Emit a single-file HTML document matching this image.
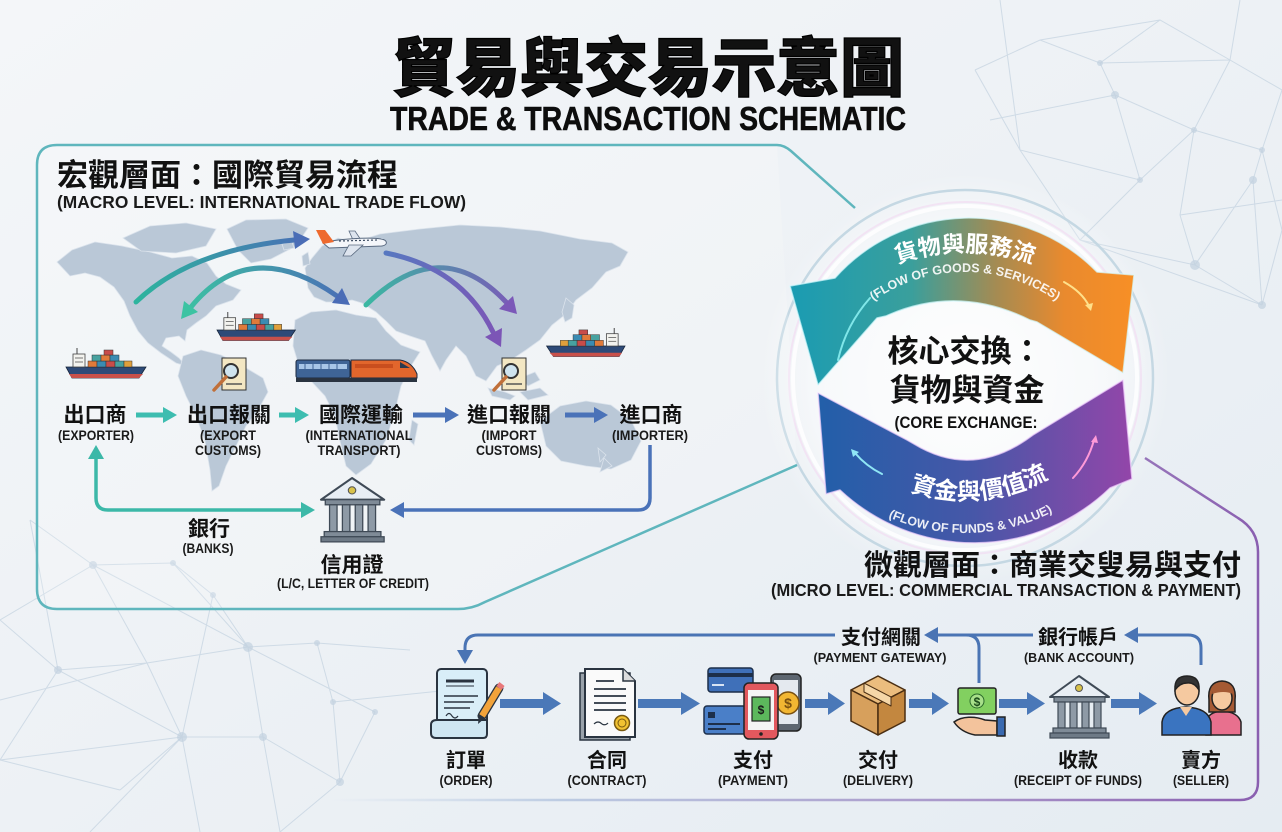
<!DOCTYPE html>
<html><head><meta charset="utf-8">
<style>
html,body{margin:0;padding:0;width:1282px;height:832px;overflow:hidden;background:#eef2f6;}
svg{display:block;}
.cjk{font-family:"Liberation Sans","Noto Sans CJK TC","Noto Sans CJK SC",sans-serif;font-weight:700;fill:#111;}
.en{font-family:"Liberation Sans",sans-serif;font-weight:700;fill:#1a1a1a;}
</style></head>
<body>
<svg width="1282" height="832" viewBox="0 0 1282 832" xmlns="http://www.w3.org/2000/svg">
<defs>
  <linearGradient id="bg" x1="0" y1="0" x2="1" y2="1">
    <stop offset="0" stop-color="#f4f6f9"/>
    <stop offset="0.5" stop-color="#edf1f5"/>
    <stop offset="1" stop-color="#e5ecf2"/>
  </linearGradient>
  <radialGradient id="glow" cx="0.5" cy="0.5" r="0.5">
    <stop offset="0" stop-color="#ffffff" stop-opacity="0.95"/>
    <stop offset="0.7" stop-color="#ffffff" stop-opacity="0.6"/>
    <stop offset="1" stop-color="#ffffff" stop-opacity="0"/>
  </radialGradient>
  <linearGradient id="gTop" x1="793" y1="0" x2="1132" y2="0" gradientUnits="userSpaceOnUse">
    <stop offset="0" stop-color="#1b9cb2"/>
    <stop offset="0.35" stop-color="#3a9f9c"/>
    <stop offset="0.6" stop-color="#a58b52"/>
    <stop offset="0.8" stop-color="#e98a2e"/>
    <stop offset="1" stop-color="#f78f26"/>
  </linearGradient>
  <linearGradient id="gBot" x1="818" y1="0" x2="1130" y2="0" gradientUnits="userSpaceOnUse">
    <stop offset="0" stop-color="#225fa9"/>
    <stop offset="0.5" stop-color="#4757a8"/>
    <stop offset="1" stop-color="#9246a9"/>
  </linearGradient>
  <linearGradient id="a1" x1="136" y1="0" x2="310" y2="0" gradientUnits="userSpaceOnUse">
    <stop offset="0" stop-color="#2db49e"/><stop offset="1" stop-color="#4a6db6"/>
  </linearGradient>
  <linearGradient id="a2" x1="181" y1="0" x2="350" y2="0" gradientUnits="userSpaceOnUse">
    <stop offset="0" stop-color="#3cc3a2"/><stop offset="1" stop-color="#4a6cb6"/>
  </linearGradient>
  <linearGradient id="a3" x1="366" y1="0" x2="517" y2="0" gradientUnits="userSpaceOnUse">
    <stop offset="0" stop-color="#3ab8a2"/><stop offset="1" stop-color="#7b58b8"/>
  </linearGradient>
  <linearGradient id="a4" x1="386" y1="0" x2="501" y2="0" gradientUnits="userSpaceOnUse">
    <stop offset="0" stop-color="#5878c0"/><stop offset="1" stop-color="#7c55b6"/>
  </linearGradient>
  <linearGradient id="micro" x1="330" y1="0" x2="1258" y2="0" gradientUnits="userSpaceOnUse">
    <stop offset="0" stop-color="#c6d6e8" stop-opacity="0"/>
    <stop offset="0.25" stop-color="#bccbe2"/>
    <stop offset="0.7" stop-color="#a894c8"/>
    <stop offset="1" stop-color="#8a5fb0"/>
  </linearGradient>
  <path id="arcTop1" d="M765,452 A200,200 0 0 1 1165,452"/>
  <path id="arcTop2" d="M805,432 A160,160 0 0 1 1125,432"/>
  <path id="arcBot1" d="M795,330 A170,170 0 0 0 1135,330"/>
  <path id="arcBot2" d="M772,340 A193,193 0 0 0 1158,340"/>
  <g id="ship">
    <path d="M0,19 L80,19 L73,30 L6,30 Z" fill="#2d4a78" stroke="#16243a" stroke-width="0.8"/>
    <path d="M3,26 L77,26 L73,30 L6,30 Z" fill="#c8504a"/>
    <rect x="22" y="13" width="9" height="6" fill="#e07a3a" stroke="#333" stroke-width="0.5"/>
    <rect x="31" y="13" width="9" height="6" fill="#3b8bb2" stroke="#333" stroke-width="0.5"/>
    <rect x="40" y="13" width="9" height="6" fill="#c84c4a" stroke="#333" stroke-width="0.5"/>
    <rect x="49" y="13" width="9" height="6" fill="#48a2a0" stroke="#333" stroke-width="0.5"/>
    <rect x="58" y="13" width="8" height="6" fill="#e0a03c" stroke="#333" stroke-width="0.5"/>
    <rect x="26" y="7" width="9" height="6" fill="#48a2a0" stroke="#333" stroke-width="0.5"/>
    <rect x="35" y="7" width="9" height="6" fill="#e07a3a" stroke="#333" stroke-width="0.5"/>
    <rect x="44" y="7" width="9" height="6" fill="#3b8bb2" stroke="#333" stroke-width="0.5"/>
    <rect x="38" y="2" width="9" height="5" fill="#c84c4a" stroke="#333" stroke-width="0.5"/>
    <rect x="7" y="6" width="12" height="13" fill="#f3f3ef" stroke="#444" stroke-width="0.8"/>
    <line x1="9" y1="10" x2="17" y2="10" stroke="#555" stroke-width="0.8"/>
    <line x1="9" y1="14" x2="17" y2="14" stroke="#555" stroke-width="0.8"/>
    <line x1="11" y1="0" x2="11" y2="6" stroke="#444" stroke-width="1"/>
  </g>
  <g id="bankMicro">
    <polygon points="29,1 59,22 0,22" fill="#e8eef4" stroke="#3f4a56" stroke-width="2" stroke-linejoin="round"/>
    <circle cx="29" cy="13" r="3.5" fill="#d9c24a" stroke="#555" stroke-width="1"/>
    <rect x="4" y="22" width="51" height="5" fill="#7f8b97" stroke="#3f4a56" stroke-width="1.2"/>
    <rect x="8" y="27" width="7" height="26" fill="#8e9aa6" stroke="#3f4a56" stroke-width="1.2"/>
    <rect x="20" y="27" width="7" height="26" fill="#8e9aa6" stroke="#3f4a56" stroke-width="1.2"/>
    <rect x="32" y="27" width="7" height="26" fill="#8e9aa6" stroke="#3f4a56" stroke-width="1.2"/>
    <rect x="44" y="27" width="7" height="26" fill="#8e9aa6" stroke="#3f4a56" stroke-width="1.2"/>
    <rect x="3" y="53" width="53" height="5" fill="#7f8b97" stroke="#3f4a56" stroke-width="1.2"/>
    <rect x="0" y="58" width="59" height="5" fill="#6e7a86" stroke="#3f4a56" stroke-width="1.2"/>
  </g>
</defs>

<rect x="0" y="0" width="1282" height="832" fill="url(#bg)"/>

<!-- network background -->
<g stroke="#b7c8d9" stroke-width="1" opacity="0.55" fill="none">
  <path d="M975,70 L1040,40 L1100,63 L1115,95 L1194,130 L1262,150 L1253,180 L1262,305 M1100,63 L1160,20 L1230,60 L1282,90 M1040,40 L1160,20 M1194,130 L1140,180 L1020,150 L975,70 M1020,150 L1080,240 L1195,265 L1180,215 L1194,130 M1080,240 L1140,180 M1230,60 L1194,130 M1240,0 L1230,60 M1262,150 L1282,90 M1262,305 L1282,230 L1262,150 M1115,95 L1140,180 M1253,180 L1195,265 L1262,305 M1100,63 L1230,60 M1020,150 L1000,0 M1180,215 L1282,200 M1080,240 L1262,305 M990,120 L1115,95"/>
  <path d="M93,565 L173,563 L248,647 L93,565 M213,595 L248,647 L317,643 M248,647 L147,663 L58,670 L182,737 L147,663 M182,737 L263,737 L248,647 M263,737 L340,782 L333,702 L317,643 M375,712 L340,782 M0,620 L58,670 M0,620 L93,565 M0,760 L58,670 M0,760 L182,737 M90,832 L182,737 M200,832 L182,737 M280,832 L340,782 M30,520 L93,565 M30,520 L58,670 M120,790 L182,737 M120,790 L0,760 M147,663 L93,565 M213,595 L182,737 M263,737 L280,832 M248,647 L375,712 M173,563 L213,595 M0,700 L147,663 M333,702 L450,690 M317,643 L410,650"/>
</g>
<g fill="#c3d2e0" opacity="0.7">
  <circle cx="1100" cy="63" r="3"/><circle cx="1115" cy="95" r="4"/><circle cx="1194" cy="130" r="3"/>
  <circle cx="1262" cy="150" r="3"/><circle cx="1253" cy="180" r="4"/><circle cx="1195" cy="265" r="5"/>
  <circle cx="1262" cy="305" r="4"/><circle cx="1140" cy="180" r="3"/>
  <circle cx="93" cy="565" r="4"/><circle cx="173" cy="563" r="3"/><circle cx="248" cy="647" r="5"/>
  <circle cx="58" cy="670" r="4"/><circle cx="182" cy="737" r="5"/><circle cx="263" cy="737" r="4"/>
  <circle cx="333" cy="702" r="3"/><circle cx="375" cy="712" r="3"/><circle cx="340" cy="782" r="4"/>
  <circle cx="317" cy="643" r="3"/><circle cx="213" cy="595" r="3"/>
</g>

<!-- Title -->
<text x="648" y="91" text-anchor="middle" class="cjk" font-size="64" style="font-weight:900" stroke="#000" stroke-width="1.2">貿易與交易示意圖</text>
<text x="648" y="130" text-anchor="middle" class="en" font-size="33" textLength="516" lengthAdjust="spacingAndGlyphs" style="fill:#0d0d0d" stroke="#0d0d0d" stroke-width="0.6">TRADE &amp; TRANSACTION SCHEMATIC</text>

<!-- Circle glow and rings -->
<circle cx="965" cy="378" r="205" fill="url(#glow)"/>
<circle cx="965" cy="378" r="188" fill="none" stroke="#c5d8e3" stroke-width="2.5"/>
<circle cx="965" cy="378" r="172" fill="none" stroke="#ffffff" stroke-width="4" opacity="0.8"/>
<circle cx="965" cy="378" r="176" fill="none" stroke="#f3c6ef" stroke-width="2" opacity="0.35"/>

<!-- Macro panel border -->
<path d="M777,145 L57,145 Q37,145 37,165 L37,589 Q37,609 57,609 L458,609 Q472,609 485,602 L797,465" fill="rgba(255,255,255,0.18)" stroke="#5fb6bd" stroke-width="2.5"/>
<path d="M777,145 Q784,145 791,151 L855,208" fill="none" stroke="#5fb6bd" stroke-width="2.5"/>

<!-- Micro panel border -->
<path d="M1145,458 L1238,518 Q1258,530 1258,552 L1258,782 Q1258,800 1240,800 L330,800" fill="none" stroke="url(#micro)" stroke-width="2.5"/>

<!-- Macro heading -->
<text x="57" y="186" class="cjk" font-size="31">宏觀層面：國際貿易流程</text>
<text x="57" y="208" class="en" font-size="17.5" textLength="409" lengthAdjust="spacingAndGlyphs">(MACRO LEVEL: INTERNATIONAL TRADE FLOW)</text>

<!-- World map -->
<g fill="#bac8d7" stroke="#dbe3ec" stroke-width="0.8">
  <path d="M57,262 L72,250 L95,242 L122,246 L150,252 L172,258 L192,256 L207,263 L216,276 L226,284 L241,290 L233,300 L216,306 L206,316 L196,323 L187,330 L185,341 L179,336 L166,338 L162,346 L171,352 L179,358 L186,366 L176,363 L161,353 L148,343 L138,331 L130,316 L124,301 L114,287 L100,277 L85,273 L70,276 Z"/>
  <path d="M123,238 L150,226 L186,223 L216,229 L206,246 L176,253 L141,251 Z"/>
  <path d="M227,229 L246,220 L286,219 L308,228 L296,246 L271,259 L251,263 L238,250 Z"/>
  <path d="M183,356 L201,350 L221,355 L241,365 L263,378 L268,392 L258,410 L246,426 L236,446 L226,466 L219,486 L212,491 L210,470 L205,441 L196,416 L186,396 L178,376 Z"/>
  <path d="M305,268 L312,258 L322,246 L338,238 L355,242 L380,234 L420,229 L460,225 L500,227 L540,231 L580,239 L612,243 L628,252 L620,266 L606,272 L592,288 L576,300 L566,314 L552,325 L540,340 L526,350 L511,360 L497,366 L486,381 L476,376 L466,356 L456,346 L446,360 L440,371 L432,356 L425,341 L410,336 L396,331 L386,321 L376,312 L362,303 L352,300 L340,302 L326,302 L314,297 L308,288 Z"/>
  <path d="M295,320 L311,312 L336,310 L356,315 L376,318 L386,331 L401,345 L420,352 L411,366 L401,386 L395,411 L386,440 L371,464 L356,475 L346,466 L340,441 L335,416 L325,396 L311,381 L299,366 L293,346 Z"/>
  <path d="M540,421 L560,406 L586,401 L611,405 L631,420 L641,441 L631,460 L611,469 L586,466 L561,461 L546,446 Z"/>
  <path d="M566,298 L574,305 L572,318 L565,322 L562,312 Z"/>
  <path d="M488,388 L505,392 L515,396 L510,400 L492,396 Z"/>
  <path d="M520,392 L540,388 L548,395 L528,400 Z"/>
  <path d="M520,378 L535,372 L540,380 L528,386 Z"/>
  <path d="M598,448 L606,455 L600,462 Z"/>
  <path d="M604,458 L612,466 L600,472 Z"/>
  <path d="M412,420 L418,424 L414,445 L409,440 Z"/>
  <path d="M302,256 L308,252 L310,264 L303,266 Z"/>
  <path d="M282,244 L292,242 L294,248 L284,250 Z"/>
</g>

<!-- map arcs -->
<g fill="none" stroke-linecap="round">
  <path d="M136,302 Q190,250 294,240" stroke="url(#a1)" stroke-width="5"/>
  <path d="M191,307 Q250,235 337,296" stroke="url(#a2)" stroke-width="5"/>
  <path d="M366,305 Q440,232 506,302" stroke="url(#a3)" stroke-width="5"/>
  <path d="M386,253 Q462,268 493,332" stroke="url(#a4)" stroke-width="5"/>
</g>
<polygon points="310,239 295,249 293,231" fill="#4a6db6"/>
<polygon points="181,319 184,301 198,312" fill="#3cc3a2"/>
<polygon points="350,305 332,303 342,288" fill="#4a6cb6"/>
<polygon points="517,314 499,309 513,296" fill="#7b58b8"/>
<polygon points="501,347 485,337 502,328" fill="#7c55b6"/>

<!-- plane -->
<g transform="translate(315,228)">
  <polygon points="38,12 46,12 40,3 34,3" fill="#dde4ee" stroke="#5a6a80" stroke-width="0.8"/>
  <path d="M8,15 C20,11 55,9 66,11 C73,12 73,17 67,18 L14,20 Z" fill="#f4f6fa" stroke="#5a6a80" stroke-width="1"/>
  <polygon points="1,2 10,2 19,14 8,16" fill="#ee6a2e"/>
  <polygon points="34,17 48,17 36,28 28,28" fill="#dde4ee" stroke="#5a6a80" stroke-width="0.8"/>
  <line x1="24" y1="13" x2="62" y2="12" stroke="#3a4a60" stroke-width="1.2" stroke-dasharray="2,2"/>
</g>

<!-- ships -->
<use href="#ship" transform="translate(66,348)"/>
<use href="#ship" transform="translate(217,312) scale(0.98,0.95)"/>
<use href="#ship" transform="translate(625,328) scale(-0.98,0.95)"/>

<!-- train -->
<g>
  <rect x="296" y="360" width="54" height="18" rx="2" fill="#3f6496" stroke="#1c2a40" stroke-width="1"/>
  <rect x="299" y="364" width="48" height="5" fill="#a8c6e8"/>
  <g stroke="#3f6496" stroke-width="1"><line x1="305" y1="364" x2="305" y2="369"/><line x1="313" y1="364" x2="313" y2="369"/><line x1="321" y1="364" x2="321" y2="369"/><line x1="329" y1="364" x2="329" y2="369"/><line x1="337" y1="364" x2="337" y2="369"/></g>
  <path d="M351,360 L400,360 Q412,362 417,374 L417,378 L351,378 Z" fill="#e2662c" stroke="#1c2a40" stroke-width="1"/>
  <rect x="355" y="364" width="38" height="4" fill="#c94e1e"/>
  <path d="M400,362 L410,368 L400,368 Z" fill="#2a3a50"/>
  <rect x="296" y="378" width="121" height="4" fill="#2a3340"/>
</g>

<!-- docs with magnifier -->
<g>
  <rect x="222" y="358" width="24" height="32" fill="#f3e7c3" stroke="#333" stroke-width="1"/>
  <line x1="226" y1="384" x2="242" y2="384" stroke="#555" stroke-width="1.5"/>
  <circle cx="231" cy="371" r="7" fill="#cfe4ef" stroke="#333" stroke-width="2"/>
  <line x1="226" y1="377" x2="214" y2="390" stroke="#c0703a" stroke-width="3.5" stroke-linecap="round"/>
  <rect x="502" y="358" width="24" height="32" fill="#f3e7c3" stroke="#333" stroke-width="1"/>
  <line x1="506" y1="384" x2="522" y2="384" stroke="#555" stroke-width="1.5"/>
  <circle cx="511" cy="371" r="7" fill="#cfe4ef" stroke="#333" stroke-width="2"/>
  <line x1="506" y1="377" x2="494" y2="390" stroke="#c0703a" stroke-width="3.5" stroke-linecap="round"/>
</g>

<!-- macro flow labels -->
<g text-anchor="middle">
  <text x="95" y="422" class="cjk" font-size="21">出口商</text>
  <text x="229" y="422" class="cjk" font-size="21">出口報關</text>
  <text x="361" y="422" class="cjk" font-size="21">國際運輸</text>
  <text x="509" y="422" class="cjk" font-size="21">進口報關</text>
  <text x="651" y="422" class="cjk" font-size="21">進口商</text>
  <text x="96" y="440" class="en" font-size="13.5" textLength="76" lengthAdjust="spacingAndGlyphs">(EXPORTER)</text>
  <text x="228" y="440" class="en" font-size="13.5" textLength="56" lengthAdjust="spacingAndGlyphs">(EXPORT</text>
  <text x="228" y="455" class="en" font-size="13.5" textLength="66" lengthAdjust="spacingAndGlyphs">CUSTOMS)</text>
  <text x="359" y="440" class="en" font-size="13.5" textLength="107" lengthAdjust="spacingAndGlyphs">(INTERNATIONAL</text>
  <text x="359" y="455" class="en" font-size="13.5" textLength="83" lengthAdjust="spacingAndGlyphs">TRANSPORT)</text>
  <text x="509" y="440" class="en" font-size="13.5" textLength="55" lengthAdjust="spacingAndGlyphs">(IMPORT</text>
  <text x="509" y="455" class="en" font-size="13.5" textLength="66" lengthAdjust="spacingAndGlyphs">CUSTOMS)</text>
  <text x="650" y="440" class="en" font-size="13.5" textLength="76" lengthAdjust="spacingAndGlyphs">(IMPORTER)</text>
</g>
<!-- macro arrows -->
<g>
  <rect x="136" y="412.5" width="28" height="5" fill="#3dbdb0"/><polygon points="177,415 163,407 163,423" fill="#3dbdb0"/>
  <rect x="279" y="412.5" width="17" height="5" fill="#3dbdb0"/><polygon points="309,415 295,407 295,423" fill="#3dbdb0"/>
  <rect x="413" y="412.5" width="33" height="5" fill="#4a72b8"/><polygon points="459,415 445,407 445,423" fill="#4a72b8"/>
  <rect x="565" y="412.5" width="30" height="5" fill="#4a72b8"/><polygon points="608,415 594,407 594,423" fill="#4a72b8"/>
</g>
<!-- bank loop -->
<path d="M96,458 L96,498 Q96,510 108,510 L302,510" fill="none" stroke="#3cb8a8" stroke-width="3.5"/>
<polygon points="96,445 88,459 104,459" fill="#3cb8a8"/>
<polygon points="315,510 301,502 301,518" fill="#3cb8a8"/>
<path d="M650,445 L650,498 Q650,510 638,510 L402,510" fill="none" stroke="#4a72b8" stroke-width="3.5"/>
<polygon points="390,510 404,502 404,518" fill="#4a72b8"/>
<use href="#bankMicro" transform="translate(321,477) scale(1.07,1.03)"/>
<g text-anchor="middle">
  <text x="209" y="536" class="cjk" font-size="21">銀行</text>
  <text x="208" y="553" class="en" font-size="13.5" textLength="51" lengthAdjust="spacingAndGlyphs">(BANKS)</text>
  <text x="352" y="572" class="cjk" font-size="21">信用證</text>
  <text x="353" y="588" class="en" font-size="13.5" textLength="152" lengthAdjust="spacingAndGlyphs">(L/C, LETTER OF CREDIT)</text>
</g>

<!-- Core exchange circle bands -->
<path d="M790,286 L818,385 L877,318 L886,316 Q957,284 1030,320 L1037,322 L1123,373 L1134,275 L1097,272 A179,179 0 0 0 835,278 Z" fill="url(#gTop)" stroke="#d8fbff" stroke-opacity="0.7" stroke-width="1.5" stroke-linejoin="round"/>
<path d="M818,393 L826,494 L840,490 A196,196 0 0 0 1110,488 L1132,479 L1123,380 L1033,435 L1026,440 Q970,478 914,444 L907,440 Z" fill="url(#gBot)" stroke="#f4d4ff" stroke-opacity="0.7" stroke-width="1.5" stroke-linejoin="round"/>
<!-- small thin arrows in bands -->
<g fill="none" stroke-width="2" stroke-linecap="round">
  <path d="M870,298 Q846,325 838,360" stroke="#8ff3f5" opacity="0.85"/>
  <path d="M1064,282 Q1082,292 1089,306" stroke="#ffe08a"/>
  <path d="M882,474 Q866,466 855,453" stroke="#8fe6f5"/>
  <path d="M1073,478 Q1088,462 1094,440" stroke="#ff9ad8"/>
</g>
<polygon points="1091,311 1085,305 1093,303" fill="#ffe08a"/>
<polygon points="851,449 859,452 853,457" fill="#8fe6f5"/>
<polygon points="1096,435 1098,443 1091,442" fill="#ff9ad8"/>

<!-- band texts -->
<text class="cjk" font-size="23" style="fill:#ffffff"><textPath href="#arcTop1" startOffset="50%" text-anchor="middle">貨物與服務流</textPath></text>
<text class="en" font-size="12.5" style="fill:#ffffff" opacity="0.9"><textPath href="#arcTop2" startOffset="50%" text-anchor="middle">(FLOW OF GOODS &amp; SERVICES)</textPath></text>
<text class="cjk" font-size="24" style="fill:#ffffff"><textPath href="#arcBot1" startOffset="53%" text-anchor="middle">資金與價值流</textPath></text>
<text class="en" font-size="12.5" style="fill:#ffffff" opacity="0.9"><textPath href="#arcBot2" startOffset="51%" text-anchor="middle">(FLOW OF FUNDS &amp; VALUE)</textPath></text>

<!-- core text -->
<g text-anchor="middle">
  <text x="965" y="362" class="cjk" font-size="31">核心交換：</text>
  <text x="967" y="401" class="cjk" font-size="31">貨物與資金</text>
  <text x="966" y="428" class="en" font-size="16.5" textLength="143" lengthAdjust="spacingAndGlyphs" style="fill:#111">(CORE EXCHANGE:</text>
</g>

<!-- Micro heading -->
<text x="1241" y="575" text-anchor="end" class="cjk" font-size="29">微觀層面：商業交叟易與支付</text>
<text x="1241" y="596" text-anchor="end" class="en" font-size="17.5" textLength="470" lengthAdjust="spacingAndGlyphs">(MICRO LEVEL: COMMERCIAL TRANSACTION &amp; PAYMENT)</text>

<!-- micro feedback arrows -->
<g fill="none" stroke="#4a74b4" stroke-width="3">
  <path d="M835,635 L478,635 Q465,635 465,648 L465,652"/>
  <path d="M936,635 L1033,635"/>
  <path d="M966,635 Q979,635 979,648 L979,683"/>
  <path d="M1201,665 L1201,648 Q1201,635 1188,635 L1138,635"/>
</g>
<polygon points="465,664 457,650 473,650" fill="#4a74b4"/>
<polygon points="924,635 938,627 938,643" fill="#4a74b4"/>
<polygon points="1124,635 1138,627 1138,643" fill="#4a74b4"/>
<g text-anchor="middle">
  <text x="881" y="644" class="cjk" font-size="20">支付網關</text>
  <text x="880" y="662" class="en" font-size="13" textLength="133" lengthAdjust="spacingAndGlyphs">(PAYMENT GATEWAY)</text>
  <text x="1078" y="644" class="cjk" font-size="20">銀行帳戶</text>
  <text x="1079" y="662" class="en" font-size="13" textLength="110" lengthAdjust="spacingAndGlyphs">(BANK ACCOUNT)</text>
</g>

<!-- micro thick arrows -->
<g fill="#4a78b8">
  <rect x="500" y="699" width="44" height="9"/><polygon points="561,703.5 543,692 543,715"/>
  <rect x="638" y="699" width="44" height="9"/><polygon points="700,703.5 681,692 681,715"/>
  <rect x="805" y="699" width="24" height="9"/><polygon points="845,703.5 828,692 828,715"/>
  <rect x="909" y="699" width="24" height="9"/><polygon points="949,703.5 932,692 932,715"/>
  <rect x="999" y="699" width="29" height="9"/><polygon points="1045,703.5 1027,692 1027,715"/>
  <rect x="1111" y="699" width="29" height="9"/><polygon points="1157,703.5 1139,692 1139,715"/>
</g>

<!-- order icon -->
<g>
  <rect x="437" y="669" width="50" height="60" rx="4" fill="#d9eef8" stroke="#2a3440" stroke-width="2"/>
  <path d="M431,725 Q431,720 437,720 L487,720 L487,734 Q487,738 483,738 L436,738 Q431,738 431,733 Z" fill="#cfe6f2" stroke="#2a3440" stroke-width="2"/>
  <line x1="446" y1="681" x2="474" y2="681" stroke="#2a3440" stroke-width="3"/>
  <line x1="446" y1="686" x2="474" y2="686" stroke="#2a3440" stroke-width="1"/>
  <line x1="444" y1="696" x2="478" y2="696" stroke="#2a3440" stroke-width="1.5"/>
  <line x1="444" y1="702" x2="474" y2="702" stroke="#2a3440" stroke-width="1.5"/>
  <line x1="444" y1="708" x2="470" y2="708" stroke="#2a3440" stroke-width="1.5"/>
  <path d="M446,716 q3,-5 6,0 q3,4 6,0" fill="none" stroke="#2a3440" stroke-width="1.2"/>
  <line x1="499" y1="688" x2="482" y2="716" stroke="#2a3440" stroke-width="9" stroke-linecap="round"/>
  <line x1="499" y1="688" x2="482" y2="716" stroke="#f2a33a" stroke-width="6.5"/>
  <line x1="502" y1="684" x2="499" y2="688" stroke="#e8787a" stroke-width="6.5"/>
  <polygon points="479,714 485,718 478,724" fill="#2a3440"/>
</g>
<!-- contract icon -->
<g>
  <rect x="580" y="673" width="50" height="67" fill="#9aa2aa" stroke="#2a3440" stroke-width="1.5"/>
  <path d="M585,669 L623,669 L635,681 L635,737 L585,737 Z" fill="#fafafa" stroke="#2a3440" stroke-width="2"/>
  <path d="M623,669 L623,681 L635,681" fill="#dcdcdc" stroke="#2a3440" stroke-width="1.5"/>
  <g stroke="#2a3440" stroke-width="1.8"><line x1="596" y1="681" x2="614" y2="681"/><line x1="594" y1="689" x2="626" y2="689"/><line x1="594" y1="696" x2="626" y2="696"/><line x1="594" y1="703" x2="626" y2="703"/><line x1="594" y1="710" x2="626" y2="710"/></g>
  <path d="M594,724 q4,-4 8,0 q3,2 6,-1" fill="none" stroke="#2a3440" stroke-width="1.2"/>
  <circle cx="622" cy="723" r="7.5" fill="#f2c232" stroke="#7a5a10" stroke-width="1.5"/>
  <circle cx="622" cy="723" r="4" fill="none" stroke="#7a5a10" stroke-width="1"/>
</g>
<!-- payment icon -->
<g>
  <rect x="708" y="668" width="45" height="24" rx="3" fill="#3f70b9" stroke="#1d2f4a" stroke-width="1.5"/>
  <rect x="708" y="673" width="45" height="4" fill="#1d2f4a"/>
  <line x1="712" y1="685" x2="724" y2="685" stroke="#d8e4f4" stroke-width="2"/>
  <rect x="771" y="674" width="30" height="57" rx="5" fill="#5d6670" stroke="#222" stroke-width="1.5"/>
  <rect x="774" y="680" width="24" height="44" fill="#e4e9ef"/>
  <circle cx="788" cy="703" r="11" fill="#f2b632" stroke="#7a5010" stroke-width="1.5"/>
  <text x="788" y="708" text-anchor="middle" class="en" font-size="14" style="fill:#7a5010">$</text>
  <rect x="704" y="706" width="42" height="28" rx="3" fill="#4a7fc8" stroke="#1d2f4a" stroke-width="1.5"/>
  <rect x="708" y="712" width="7" height="6" fill="#1d2f4a"/>
  <line x1="708" y1="724" x2="740" y2="724" stroke="#1d2f4a" stroke-width="2"/>
  <line x1="708" y1="729" x2="726" y2="729" stroke="#1d2f4a" stroke-width="2"/>
  <rect x="744" y="683" width="34" height="56" rx="5" fill="#e2585e" stroke="#222" stroke-width="1.5"/>
  <rect x="748" y="690" width="26" height="40" fill="#f4f4f4"/>
  <rect x="752" y="697" width="18" height="24" fill="#5cb85c" stroke="#222" stroke-width="1.2"/>
  <text x="761" y="714" text-anchor="middle" class="en" font-size="12" style="fill:#1a1a1a">$</text>
  <circle cx="761" cy="734" r="1.8" fill="#222"/>
</g>
<!-- box icon -->
<g stroke="#4a2e12" stroke-width="1.5" stroke-linejoin="round">
  <polygon points="878,676 905,690 878,704 851,690" fill="#ebbd7e"/>
  <polygon points="851,690 878,704 878,735 851,721" fill="#d7a05c"/>
  <polygon points="878,704 905,690 905,721 878,735" fill="#c3873f"/>
  <polygon points="864,683 891,697 891,706 864,692" fill="#f5d7a8" stroke-width="1"/>
</g>
<!-- cash hand icon -->
<g>
  <rect x="958" y="688" width="38" height="26" rx="2" fill="#82d060" stroke="#222" stroke-width="1.5"/>
  <circle cx="977" cy="701" r="7" fill="#a8e08a" stroke="#2a6a2a" stroke-width="1"/>
  <text x="977" y="706" text-anchor="middle" class="en" font-size="12" style="fill:#1a4a1a">$</text>
  <path d="M954,722 C962,716 975,716 985,720 L997,721 L997,735 L975,735 C965,733 958,728 954,722 Z" fill="#f3c39c" stroke="#222" stroke-width="1.5"/>
  <rect x="997" y="717" width="8" height="19" fill="#3a6ab0" stroke="#222" stroke-width="1.5"/>
</g>
<!-- bank micro -->
<use href="#bankMicro" transform="translate(1050,675)"/>
<!-- people icon -->
<g stroke="#222" stroke-width="1.5">
  <path d="M1206,735 L1206,722 Q1208,712 1222,711 Q1238,712 1241,722 L1241,735 Z" fill="#e8708e"/>
  <path d="M1209,700 Q1207,682 1222,681 Q1237,682 1235,700 L1235,712 L1209,712 Z" fill="#a55a34"/>
  <ellipse cx="1222" cy="698" rx="10" ry="12" fill="#f5c9a0"/>
  <path d="M1212,694 Q1214,684 1222,684 Q1232,684 1233,694 Q1224,690 1212,694 Z" fill="#a55a34" stroke="none"/>
  <path d="M1162,735 L1162,722 Q1164,708 1186,707 Q1208,708 1211,722 L1211,735 Z" fill="#3a74c0"/>
  <polygon points="1180,707 1186,716 1192,707" fill="#f5c9a0" stroke="none"/>
  <ellipse cx="1187" cy="691" rx="12" ry="14" fill="#f5c9a0"/>
  <path d="M1175,690 Q1174,676 1187,676 Q1200,676 1199,690 Q1194,682 1187,683 Q1180,683 1175,690 Z" fill="#333"/>
</g>

<!-- micro labels -->
<g text-anchor="middle">
  <text x="466" y="767" class="cjk" font-size="20">訂單</text>
  <text x="607" y="767" class="cjk" font-size="20">合同</text>
  <text x="753" y="767" class="cjk" font-size="20">支付</text>
  <text x="878" y="767" class="cjk" font-size="20">交付</text>
  <text x="1078" y="767" class="cjk" font-size="20">收款</text>
  <text x="1201" y="767" class="cjk" font-size="20">賣方</text>
  <text x="466" y="785" class="en" font-size="13.5" textLength="53" lengthAdjust="spacingAndGlyphs">(ORDER)</text>
  <text x="607" y="785" class="en" font-size="13.5" textLength="79" lengthAdjust="spacingAndGlyphs">(CONTRACT)</text>
  <text x="753" y="785" class="en" font-size="13.5" textLength="70" lengthAdjust="spacingAndGlyphs">(PAYMENT)</text>
  <text x="878" y="785" class="en" font-size="13.5" textLength="70" lengthAdjust="spacingAndGlyphs">(DELIVERY)</text>
  <text x="1078" y="785" class="en" font-size="13.5" textLength="128" lengthAdjust="spacingAndGlyphs">(RECEIPT OF FUNDS)</text>
  <text x="1201" y="785" class="en" font-size="13.5" textLength="56" lengthAdjust="spacingAndGlyphs">(SELLER)</text>
</g>
</svg>
</body></html>
